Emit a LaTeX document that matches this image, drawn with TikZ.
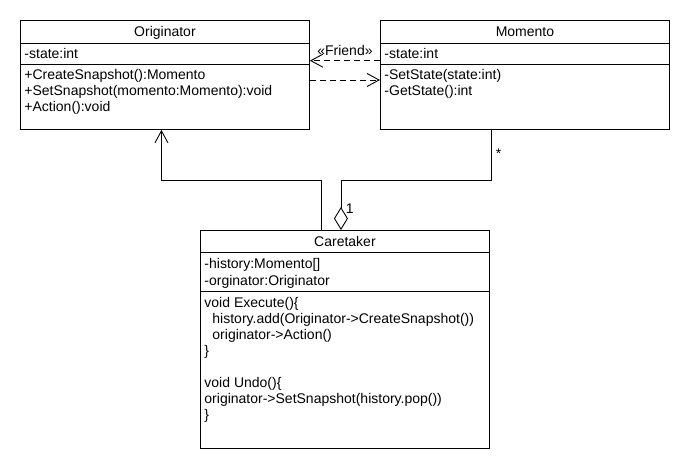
\documentclass[tikz,border=0pt]{standalone}
\usepackage{fontspec}
\setmainfont{Liberation Sans}
\usetikzlibrary{arrows.meta, positioning, calc}

\begin{document}
\begin{tikzpicture}[
  x=1pt, y=-1pt,
  line width=0.9pt,
  font=\fontsize{14}{16}\selectfont,
  classbox/.style={draw, anchor=north west, inner sep=0pt, minimum width=289pt},
  cname/.style={anchor=base, inner sep=0pt},
  member/.style={anchor=base west, inner sep=0pt},
  dep/.style={dash pattern=on 6pt off 4pt, -{Straight Barb[length=12pt, width=13pt]}},
  assoc/.style={-{Straight Barb[length=12pt, width=13pt]}},
  aggr/.style={{Diamond[open, length=23pt, width=14pt]}-},
]
\useasboundingbox (0,0) rectangle (690,470);

% class boxes
\node[classbox, minimum height=109pt] (orig) at (20,20) {};
\node[classbox, minimum height=109pt] (mom) at (380,20) {};
\node[classbox, minimum height=218pt] (care) at (200,230) {};
\foreach \c in {orig,mom}{
  \draw ([yshift=-23pt]\c.north west) -- ([yshift=-23pt]\c.north east);
  \draw ([yshift=-44pt]\c.north west) -- ([yshift=-44pt]\c.north east);
}
\draw ([yshift=-22.5pt]care.north west) -- ([yshift=-22.5pt]care.north east);
\draw ([yshift=-61.5pt]care.north west) -- ([yshift=-61.5pt]care.north east);

% Originator
\node[cname] (origname) at ([yshift=-17pt]orig.north) {Originator};
\node[member] (o1) at ([xshift=4pt, yshift=-38.5pt]orig.north west) {-state:int};
\node[member] (o2) at ([xshift=4pt, yshift=-60pt]orig.north west) {+CreateSnapshot():Momento};
\node[member] (o3) at ([xshift=4pt, yshift=-76pt]orig.north west) {+SetSnapshot(momento:Momento):void};
\node[member] (o4) at ([xshift=4pt, yshift=-92pt]orig.north west) {+Action():void};

% Momento
\node[cname] (momname) at ([yshift=-17pt]mom.north) {Momento};
\node[member] (m1) at ([xshift=4pt, yshift=-38.5pt]mom.north west) {-state:int};
\node[member] (m2) at ([xshift=4pt, yshift=-60pt]mom.north west) {-SetState(state:int)};
\node[member] (m3) at ([xshift=4pt, yshift=-76pt]mom.north west) {-GetState():int};

% Caretaker
\node[cname] (carename) at ([yshift=-16.5pt]care.north) {Caretaker};
\node[member] (c1) at ([xshift=4pt, yshift=-39pt]care.north west) {-history:Momento[]};
\node[member] (c2) at ([xshift=4pt, yshift=-55pt]care.north west) {-orginator:Originator};
\node[member] (c3) at ([xshift=4pt, yshift=-77pt]care.north west) {void Execute()\{};
\node[member] (c4) at ([xshift=12pt, yshift=-93pt]care.north west) {history.add(Originator->CreateSnapshot())};
\node[member] (c5) at ([xshift=12pt, yshift=-109pt]care.north west) {originator->Action()};
\node[member] (c6) at ([xshift=4pt, yshift=-125pt]care.north west) {\}};
\node[member] (c7) at ([xshift=4pt, yshift=-157pt]care.north west) {void Undo()\{};
\node[member] (c8) at ([xshift=4pt, yshift=-173pt]care.north west) {originator->SetSnapshot(history.pop())};
\node[member] (c9) at ([xshift=4pt, yshift=-189pt]care.north west) {\}};

% dependencies between Originator and Momento
\draw[dep] ($(mom.north west)+(0,40.7)$) -- ($(orig.north east)+(0,40.7)$)
  node[midway, above=4.5pt, inner sep=0pt] (friend) {«Friend»};
\draw[dep] ($(orig.north east)+(0,60)$) -- ($(mom.north west)+(0,60)$);

% Caretaker links
\draw[assoc] ([xshift=-24pt]care.north) -- ++(0,-50) -| ([xshift=-3.5pt]orig.south);
\draw[aggr] ([xshift=-4pt]care.north) coordinate (aggstart) -- ++(0,-50) -| ([xshift=-34pt]mom.south) coordinate (aggend);
\node[anchor=base west, inner sep=0pt] (mult1) at ([xshift=4.5pt, yshift=16pt]aggstart) {1};
\node[anchor=base west, inner sep=0pt] (multn) at ([xshift=4.5pt, yshift=-29pt]aggend) {*};
\end{tikzpicture}
\end{document}
